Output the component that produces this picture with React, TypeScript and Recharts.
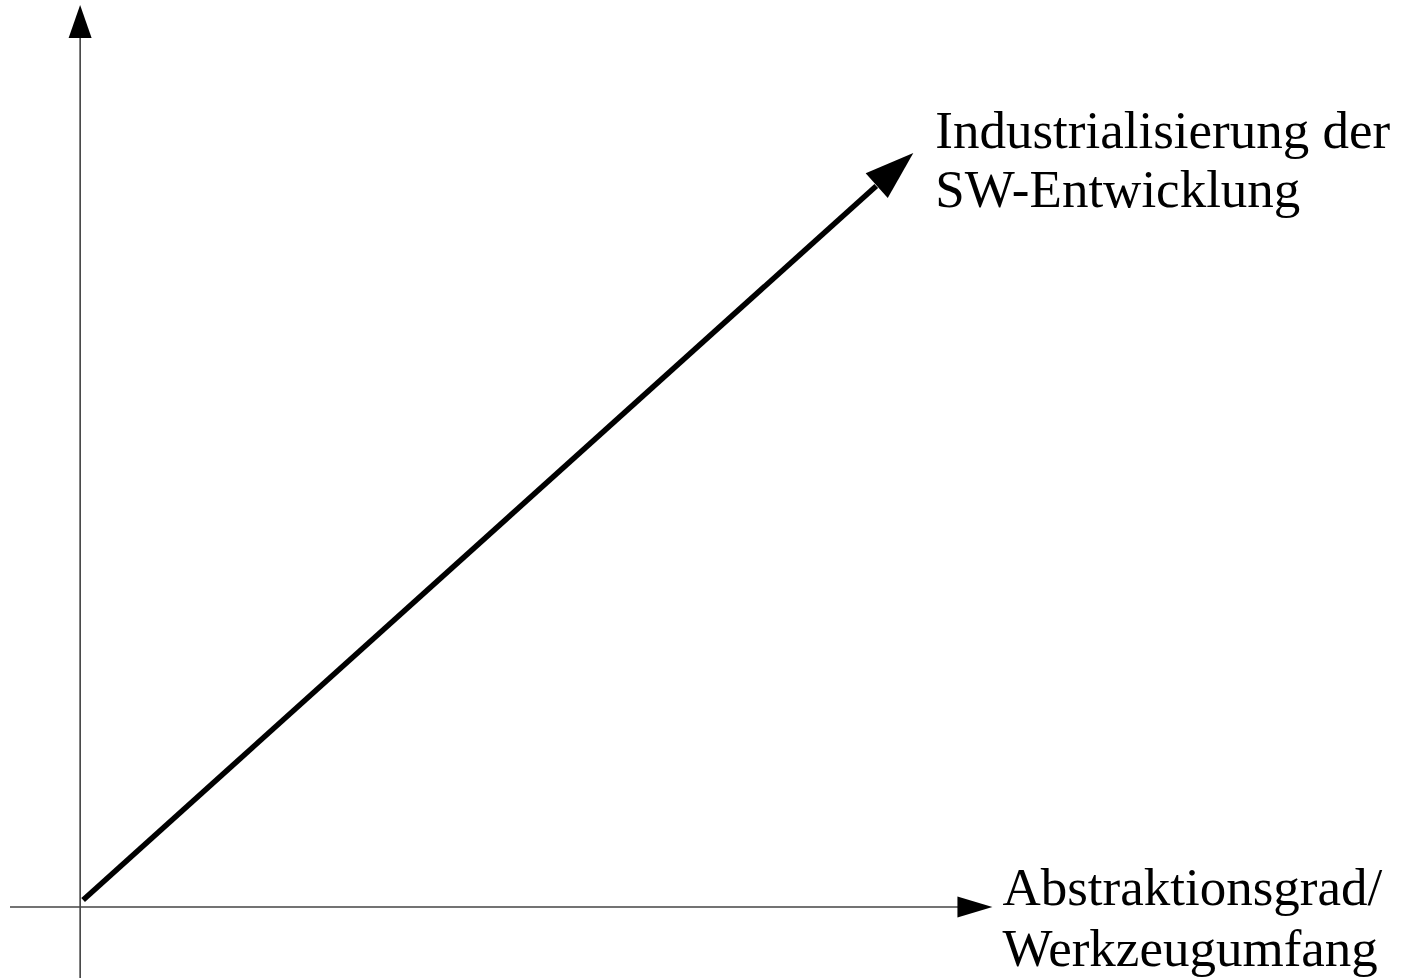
import React from 'react';
import { LineChart, Line, XAxis, YAxis, ReferenceLine } from 'recharts';

// Axis extents (data units, origin at 0/0)
const xAxisSpan = [-7, 91.1];
const yAxisSpan = [-7.1, 90.2];

// Trend arrow: start, head base, tip
const trendStart = { x: 0.3, y: 0.7 };
const trendHeadBase = { x: 79.5, y: 72.1 };
const trendTip = { x: 83.2, y: 75.4 };

const trendLabel = ['Industrialisierung der', 'SW-Entwicklung'];
const xAxisLabel = ['Abstraktionsgrad/', 'Werkzeugumfang'];

const trendData = [trendStart, trendHeadBase];

const FONT = '"Liberation Serif", "Times New Roman", serif';

// draws a line with a filled arrowhead at (x2, y2) and optional text lines next to the tip
const arrowShape = (opts: {
  width: number;
  headLen: number;
  headHalf: number;
  stroke: string;
  lineOn: boolean;
  label?: string[];
  dx?: number;
  dy?: number;
  lineGap?: number;
}) => (props: any) => {
  const { x1, y1, x2, y2 } = props;
  if ([x1, y1, x2, y2].some((v) => v == null || isNaN(v))) return <g />;
  const len = Math.hypot(x2 - x1, y2 - y1);
  const ux = (x2 - x1) / len;
  const uy = (y2 - y1) / len;
  const bx = x2 - ux * opts.headLen;
  const by = y2 - uy * opts.headLen;
  const px = -uy * opts.headHalf;
  const py = ux * opts.headHalf;
  return (
    <g>
      {opts.lineOn && (
        <line x1={x1} y1={y1} x2={bx + ux} y2={by + uy} stroke={opts.stroke} strokeWidth={opts.width} />
      )}
      <polygon points={`${x2},${y2} ${bx + px},${by + py} ${bx - px},${by - py}`} fill="#000" />
      {opts.label &&
        opts.label.map((t, i) => (
          <text
            key={t}
            x={x2 + (opts.dx ?? 0)}
            y={y2 + (opts.dy ?? 0) + i * (opts.lineGap ?? 52)}
            fontFamily={FONT}
            fontSize={53}
            fill="#000"
          >
            {t}
          </text>
        ))}
    </g>
  );
};

export default function App() {
  return (
    <div style={{ position: 'absolute', left: 0, top: 0, background: '#fff' }}>
      <LineChart width={1402} height={980} data={trendData} margin={{ top: 0, right: 0, bottom: 0, left: 0 }}>
        <XAxis type="number" dataKey="x" domain={[-8, 132]} hide allowDataOverflow />
        <YAxis type="number" dataKey="y" domain={[-7.3, 90.7]} hide allowDataOverflow />
        <ReferenceLine
          segment={[{ x: 0, y: yAxisSpan[0] }, { x: 0, y: yAxisSpan[1] }]}
          ifOverflow="visible"
          shape={arrowShape({ width: 1.2, headLen: 33, headHalf: 11.5, stroke: '#000', lineOn: true })}
        />
        <ReferenceLine
          segment={[{ x: xAxisSpan[0], y: 0 }, { x: xAxisSpan[1], y: 0 }]}
          ifOverflow="visible"
          shape={arrowShape({
            width: 1.3,
            headLen: 35,
            headHalf: 10.5,
            stroke: '#444',
            lineOn: true,
            label: xAxisLabel,
            dx: 10,
            dy: -2,
            lineGap: 61,
          })}
        />
        <Line
          type="linear"
          dataKey="y"
          stroke="#000"
          strokeWidth={5.5}
          dot={false}
          activeDot={false}
          isAnimationActive={false}
        />
        <ReferenceLine
          segment={[trendHeadBase, trendTip]}
          ifOverflow="visible"
          shape={arrowShape({
            width: 5,
            headLen: 49,
            headHalf: 16.6,
            stroke: '#000',
            lineOn: false,
            label: trendLabel,
            dx: 22,
            dy: -5,
            lineGap: 59,
          })}
        />
      </LineChart>
    </div>
  );
}
